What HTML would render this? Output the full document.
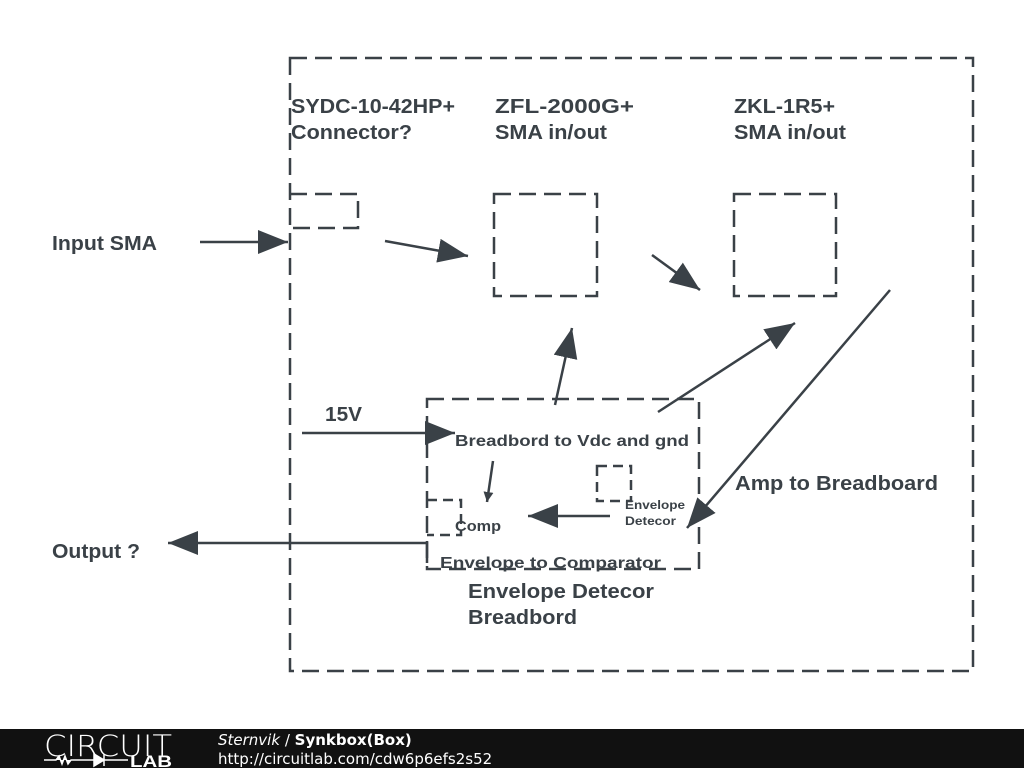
<!DOCTYPE html>
<html><head><meta charset="utf-8"><style>
body{margin:0;background:#fff;width:1024px;height:768px;overflow:hidden;font-family:"Liberation Sans",sans-serif}
</style></head><body>
<svg width="1024" height="768" viewBox="0 0 1024 768" xmlns="http://www.w3.org/2000/svg">
<defs>
<marker id="a" viewBox="0 0 10 10" refX="10" refY="5" markerWidth="10" markerHeight="10" markerUnits="userSpaceOnUse" orient="auto"><path d="M0,0 L10,5 L0,10 z" fill="#3a4147"/></marker>
<marker id="b" viewBox="0 0 10 10" refX="10" refY="5" markerWidth="30" markerHeight="24" markerUnits="userSpaceOnUse" orient="auto" preserveAspectRatio="none"><path d="M0,0 L10,5 L0,10 z" fill="#3a4147"/></marker>
</defs>
<g fill="none" stroke="#3a4147" stroke-width="2.5" stroke-dasharray="17,8">
<rect x="290" y="58" width="683" height="613"/>
<polyline points="290,194 358,194 358,228 290,228"/>
<rect x="494" y="194" width="103" height="102"/>
<rect x="734" y="194" width="102" height="102"/>
<rect x="427" y="399" width="272" height="170"/>
<rect x="597" y="466" width="34" height="35" stroke-dasharray="10,6"/>
<polyline points="427,500 461,500 461,535 427,535" stroke-dasharray="10,6"/>
</g>
<g stroke="#3a4147" stroke-width="2.5" fill="none" marker-end="url(#b)">
<line x1="200" y1="242" x2="288" y2="242"/>
<line x1="385" y1="241" x2="468" y2="256"/>
<line x1="652" y1="255" x2="700" y2="290"/>
<line x1="555" y1="405" x2="572" y2="328"/>
<line x1="658" y1="412" x2="795" y2="323"/>
<line x1="890" y1="290" x2="687" y2="528"/>
<line x1="302" y1="433" x2="455" y2="433"/>
<line x1="610" y1="516" x2="528" y2="516"/>
<polyline points="427,563 427,543 168,543"/>
</g>
<line x1="493" y1="461" x2="487" y2="502" stroke="#3a4147" stroke-width="2.5" marker-end="url(#a)"/>
<g fill="#3a4147" font-weight="bold" font-size="20" lengthAdjust="spacingAndGlyphs">
<text x="291" y="113" textLength="164" lengthAdjust="spacingAndGlyphs">SYDC-10-42HP+</text>
<text x="291" y="139" textLength="121" lengthAdjust="spacingAndGlyphs">Connector?</text>
<text x="495" y="113" textLength="139" lengthAdjust="spacingAndGlyphs">ZFL-2000G+</text>
<text x="495" y="139" textLength="112" lengthAdjust="spacingAndGlyphs">SMA in/out</text>
<text x="734" y="113" textLength="101" lengthAdjust="spacingAndGlyphs">ZKL-1R5+</text>
<text x="734" y="139" textLength="112" lengthAdjust="spacingAndGlyphs">SMA in/out</text>
<text x="52" y="250" textLength="105" lengthAdjust="spacingAndGlyphs">Input SMA</text>
<text x="325" y="421" textLength="37" lengthAdjust="spacingAndGlyphs">15V</text>
<text x="52" y="558" textLength="88" lengthAdjust="spacingAndGlyphs">Output ?</text>
<text x="735" y="490" textLength="203" lengthAdjust="spacingAndGlyphs">Amp to Breadboard</text>
<text x="468" y="598" textLength="186" lengthAdjust="spacingAndGlyphs">Envelope Detecor</text>
<text x="468" y="624" textLength="109" lengthAdjust="spacingAndGlyphs">Breadbord</text>
<text x="455" y="446" font-size="16" textLength="234" lengthAdjust="spacingAndGlyphs">Breadbord to Vdc and gnd</text>
<text x="455" y="531" font-size="15" textLength="46" lengthAdjust="spacingAndGlyphs">Comp</text>
<text x="440" y="568" font-size="16" textLength="221" lengthAdjust="spacingAndGlyphs">Envelope to Comparator</text>
<text x="625" y="509" font-size="12" textLength="60" lengthAdjust="spacingAndGlyphs">Envelope</text>
<text x="625" y="525" font-size="12" textLength="51" lengthAdjust="spacingAndGlyphs">Detecor</text>
</g>
<rect x="0" y="729" width="1024" height="39" fill="#111"/>
<text x="44" y="756" fill="#fff" font-size="29" font-family="DejaVu Sans,sans-serif" font-weight="300" textLength="128" lengthAdjust="spacingAndGlyphs">CIRCUIT</text>
<path d="M44,760 H56 l3,-4 3,8 3,-8 3,8 3,-4 H94 M94,754 v12 l10,-6z M104,754 v12 M104,760 H128" stroke="#fff" stroke-width="1.5" fill="#fff"/>
<text x="130" y="767" fill="#fff" font-size="17" font-weight="bold" textLength="42" lengthAdjust="spacingAndGlyphs">LAB</text>
<text x="218" y="745" fill="#fff" font-size="15" font-family="DejaVu Sans,sans-serif"><tspan font-style="italic">Sternvik</tspan> / <tspan font-weight="bold">Synkbox(Box)</tspan></text>
<text x="218" y="764" fill="#fff" font-size="15" font-family="DejaVu Sans,sans-serif">http://circuitlab.com/cdw6p6efs2s52</text>
</svg>
</body></html>
